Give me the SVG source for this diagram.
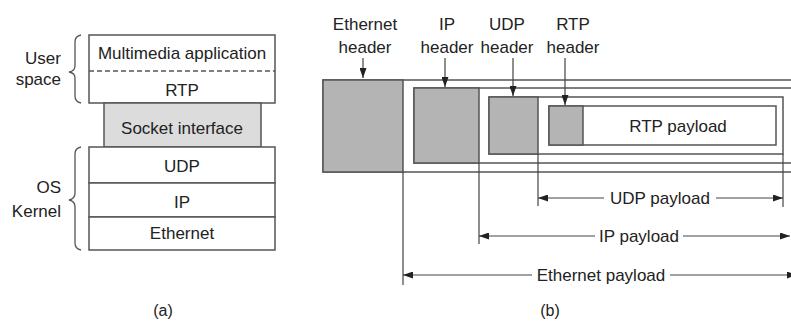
<svg xmlns="http://www.w3.org/2000/svg" width="791" height="322" viewBox="0 0 791 322">
<defs>
<marker id="ah" viewBox="0 0 10 7" refX="10" refY="3.5" markerWidth="10" markerHeight="7" markerUnits="userSpaceOnUse" orient="auto-start-reverse">
<path d="M0,0 L10,3.5 L0,7 z" fill="#222"/>
</marker>
<style>
text{font-family:"Liberation Sans",Arial,sans-serif;font-size:17px;fill:#222}
.c{text-anchor:middle}
.r{text-anchor:end}
.box{fill:#fff;stroke:#555;stroke-width:1.5}
.hdr{fill:#b4b4b4;stroke:#555;stroke-width:1.5}
.sock{fill:#dcdcdc;stroke:#555;stroke-width:1.5}
.ln{stroke:#444;stroke-width:1.2;fill:none}
.br{stroke:#555;stroke-width:1.3;fill:none}
</style>
</defs>
<rect width="791" height="322" fill="#fff"/>

<!-- (a) protocol stack -->
<g id="user-space">
<rect class="box" x="89" y="35" width="186" height="68"/>
<line x1="89" y1="71" x2="275" y2="71" stroke="#555" stroke-width="1.5" stroke-dasharray="5,3"/>
<text class="c" x="182" y="59">Multimedia application</text>
<text class="c" x="182" y="96">RTP</text>
</g>
<g id="socket">
<rect class="sock" x="104" y="103" width="157" height="44"/>
<text class="c" x="182" y="134">Socket interface</text>
</g>
<g id="kernel">
<rect class="box" x="89" y="147" width="186" height="36"/>
<text class="c" x="182" y="172">UDP</text>
<rect class="box" x="89" y="183" width="186" height="34"/>
<text class="c" x="182" y="208">IP</text>
<rect class="box" x="89" y="217" width="186" height="33"/>
<text class="c" x="182" y="239">Ethernet</text>
</g>
<g id="label-user">
<path class="br" d="M81 35 Q75 36 75 42 L75 66 Q75 71 69 72 Q75 73 75 78 L75 96 Q75 102 81 103"/>
<text class="r" x="61" y="64">User</text>
<text class="r" x="61" y="85">space</text>
</g>
<g id="label-kernel">
<path class="br" d="M81 147 Q75 148 75 154 L75 193 Q75 199 69 200 Q75 201 75 207 L75 243 Q75 249 81 250"/>
<text class="r" x="61" y="193">OS</text>
<text class="r" x="61" y="217">Kernel</text>
</g>
<text class="c" x="163" y="316" style="font-size:16px">(a)</text>

<!-- (b) encapsulation -->
<g id="ethernet-frame">
<rect class="box" x="323" y="80" width="490" height="92"/>
<rect class="hdr" x="323" y="80" width="80" height="92"/>
</g>
<g id="ip-packet">
<rect class="box" x="414" y="88" width="400" height="75"/>
<rect class="hdr" x="414" y="88" width="65" height="75"/>
</g>
<g id="udp-packet">
<rect class="box" x="489" y="97" width="294" height="57"/>
<rect class="hdr" x="489" y="97" width="49" height="57"/>
</g>
<g id="rtp-packet">
<rect class="box" x="549" y="106" width="227" height="39"/>
<rect class="hdr" x="549" y="106" width="34" height="39"/>
<text class="c" x="678" y="132">RTP payload</text>
</g>

<g id="header-labels">
<text class="c" x="365" y="30">Ethernet</text>
<text class="c" x="365" y="53">header</text>
<text class="c" x="447" y="30">IP</text>
<text class="c" x="447" y="53">header</text>
<text class="c" x="507" y="30">UDP</text>
<text class="c" x="507" y="53">header</text>
<text class="c" x="573" y="30">RTP</text>
<text class="c" x="573" y="53">header</text>
</g>

<g id="connectors">
<line class="ln" x1="363" y1="58" x2="363" y2="78" marker-end="url(#ah)"/>
<line class="ln" x1="445" y1="58" x2="445" y2="87" marker-end="url(#ah)"/>
<line class="ln" x1="513" y1="58" x2="513" y2="96" marker-end="url(#ah)"/>
<line class="ln" x1="565" y1="58" x2="565" y2="105" marker-end="url(#ah)"/>

<line class="ln" x1="403" y1="172" x2="403" y2="285"/>
<line class="ln" x1="479" y1="163" x2="479" y2="244"/>
<line class="ln" x1="538" y1="154" x2="538" y2="206"/>
<line class="ln" x1="783" y1="154" x2="783" y2="207"/>

<line class="ln" x1="538" y1="198" x2="604" y2="198" marker-start="url(#ah)"/>
<line class="ln" x1="716" y1="198" x2="783" y2="198" marker-end="url(#ah)"/>
<line class="ln" x1="479" y1="236" x2="595" y2="236" marker-start="url(#ah)"/>
<line class="ln" x1="683" y1="236" x2="790" y2="236" marker-end="url(#ah)"/>
<line class="ln" x1="403" y1="275" x2="532" y2="275" marker-start="url(#ah)"/>
<line class="ln" x1="670" y1="275" x2="797" y2="275" marker-end="url(#ah)"/>
</g>
<g id="payload-labels">
<text class="c" x="660" y="204">UDP payload</text>
<text class="c" x="639" y="242">IP payload</text>
<text class="c" x="601" y="281">Ethernet payload</text>
</g>
<text class="c" x="550" y="316" style="font-size:16px">(b)</text>
</svg>
